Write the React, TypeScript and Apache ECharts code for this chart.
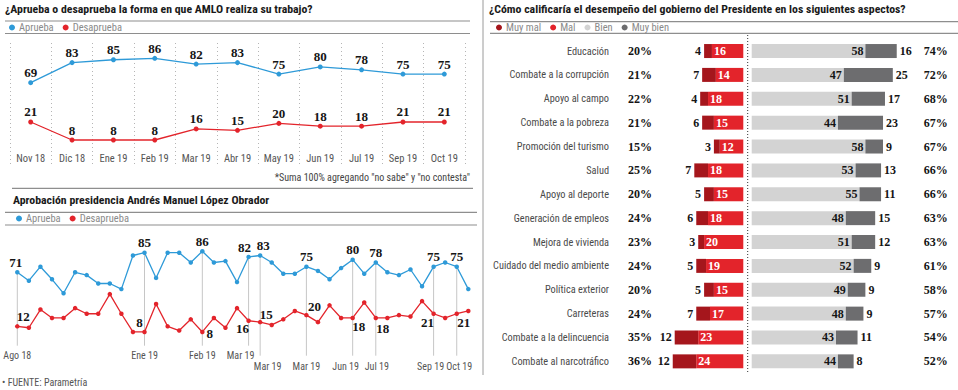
import React, { useEffect, useRef } from "react";
import * as echarts from "echarts";

const SANS = '"Liberation Sans Narrow", "Roboto Condensed", "Roboto", "DejaVu Sans", sans-serif';
const SERIF = '"Liberation Serif", "DejaVu Serif", serif';

const BLUE = "#2e9ad8";
const RED = "#e3242b";
const DARK_RED = "#a5161c";
const LIGHT_GREY = "#d3d3d3";
const DARK_GREY = "#6d6d6f";
const RULE = "#8e8e8e";

// ---- Top-left chart: monthly survey ----
const monthlyLabels = ["Nov 18", "Dic 18", "Ene 19", "Feb 19", "Mar 19", "Abr 19", "May 19", "Jun 19", "Jul 19", "Sep 19", "Oct 19"];
const monthlyApprove = [69, 83, 85, 86, 82, 83, 75, 80, 78, 75, 75];
const monthlyDisapprove = [21, 8, 8, 8, 16, 15, 20, 18, 18, 21, 21];

// ---- Bottom-left chart: tracking poll ----
const trackApprove = [71, 65, 75, 66, 56, 71, 69, 63, 63, 59, 83, 85, 67, 85, 85, 78, 86, 78, 79, 64, 82, 83, 78, 70, 70, 75, 72, 66, 74, 80, 70, 78, 71, 69, 73, 61, 75, 78, 75, 59];
const trackDisapprove = [12, 11, 24, 18, 18, 25, 21, 21, 35, 21, 8, 8, 28, 12, 9, 17, 8, 18, 11, 25, 16, 15, 13, 17, 23, 20, 15, 27, 18, 18, 29, 18, 18, 20, 19, 30, 21, 18, 21, 23];
const trackMarkedIdx = [0, 11, 16, 20, 21, 25, 29, 31, 36, 38];
const trackMarkedLabels = ["Ago 18", "Ene 19", "Feb 19", "Mar 19", "Mar 19", "Mar 19", "Jun 19", "Jul 19", "Sep 19", "Oct 19"];

// ---- Right chart ----
const aspects = [
  "Educación", "Combate a la corrupción", "Apoyo al campo", "Combate a la pobreza", "Promoción del turismo",
  "Salud", "Apoyo al deporte", "Generación de empleos", "Mejora de vivienda", "Cuidado del medio ambiente",
  "Política exterior", "Carreteras", "Combate a la delincuencia", "Combate al narcotráfico",
];
const muyMal = [4, 7, 4, 6, 3, 7, 5, 6, 3, 5, 5, 7, 12, 12];
const mal = [16, 14, 18, 15, 12, 18, 15, 18, 20, 19, 15, 17, 23, 24];
const bien = [58, 47, 51, 44, 58, 53, 55, 48, 51, 52, 49, 48, 43, 44];
const muyBien = [16, 25, 17, 23, 9, 13, 11, 15, 12, 9, 9, 9, 11, 8];
const negTotals = ["20%", "21%", "22%", "21%", "15%", "25%", "20%", "24%", "23%", "24%", "20%", "24%", "35%", "36%"];
const posTotals = ["74%", "72%", "68%", "67%", "67%", "66%", "66%", "63%", "63%", "61%", "58%", "57%", "54%", "52%"];

// label layout (styling only)
const lowerRowIdx = [21, 25, 29, 31, 36, 38];
const tickShift: Record<number, number> = { 20: -8, 21: 7.5, 29: -7, 31: 1, 36: -3, 38: 2.5 };
const blueLabelOffset: Record<number, number[]> = { 0: [-1.5, 0], 20: [-4, 0], 21: [3, 0] };
const redLabelPlace: Record<number, [string, number[]]> = {
  0: ["top", [6, 0]],
  11: ["top", [-5, 0]],
  16: ["right", [1, 2]],
  20: ["bottom", [-6, -2]],
  21: ["top", [6, 2]],
  25: ["top", [8, 1]],
  29: ["bottom", [6, -1]],
  31: ["bottom", [7, 1]],
  36: ["bottom", [-6, -1]],
  38: ["bottom", [7, -1]],
};

const numLabel = { fontFamily: SERIF, fontWeight: "bold" as const, fontSize: 13, color: "#151515" };
const barNum = { fontFamily: SERIF, fontWeight: "bold" as const, fontSize: 12 };

function buildOption() {
  const hiddenVal = (gridIndex: number, min: number, max: number, inverse = false) => ({
    type: "value", gridIndex, min, max, inverse, show: false,
  });

  const trackApproveData = trackApprove.map((v, i) =>
    trackMarkedIdx.includes(i)
      ? { value: v, label: { show: true, position: "top", distance: 1, offset: blueLabelOffset[i] || [0, 0] } }
      : v
  );
  const trackDisapproveData = trackDisapprove.map((v, i) => {
    const p = redLabelPlace[i];
    return p ? { value: v, label: { show: true, position: p[0], distance: 1, offset: p[1] } } : v;
  });

  const tickFont = { fontFamily: SANS, fontSize: 10, color: "#555", lineHeight: 11 };
  const tickRich: Record<string, any> = {};
  trackMarkedIdx.forEach((i) => {
    const s = tickShift[i] || 0;
    tickRich["p" + i] = { ...tickFont, padding: s > 0 ? [0, 0, 0, 2 * s] : [0, -2 * s, 0, 0] };
  });

  const line = (x1: number, y1: number, x2: number, y2: number, stroke = RULE, lineWidth = 1.2, lineDash?: number[]) => ({
    type: "line", silent: true, shape: { x1, y1, x2, y2 }, style: { stroke, lineWidth, lineDash },
  });

  const titleStyle = { fontFamily: SANS, fontSize: 11.8, fontWeight: "bold" as const, color: "#1a1a1a" };
  const legendBase = {
    icon: "circle", itemWidth: 6, itemHeight: 6, itemGap: 9, padding: 0,
    textStyle: { fontFamily: SANS, fontSize: 10.5, color: "#8a8a8a", padding: [0, 0, 0, -1] },
  };

  return {
    animation: false,
    backgroundColor: "#fff",
    title: [
      { text: "¿Aprueba o desaprueba la forma en que AMLO realiza su trabajo?", left: 5, top: 3, padding: 0, textStyle: titleStyle },
      { text: "Aprobación presidencia Andrés Manuel López Obrador", left: 13, top: 194, padding: 0, textStyle: titleStyle },
      { text: "¿Cómo calificaría el desempeño del gobierno del Presidente en los siguientes aspectos?", left: 489, top: 3, padding: 0, textStyle: titleStyle },
    ],
    legend: [
      { ...legendBase, left: 9, top: 22, data: ["Aprueba", "Desaprueba"] },
      { ...legendBase, left: 16, top: 213, data: ["Aprueba", "Desaprueba"] },
      { ...legendBase, left: 496, top: 22, data: ["Muy mal", "Mal", "Bien", "Muy bien"] },
    ],
    grid: [
      { left: 10, top: 43, width: 455, height: 122 },
      { left: 17.3, top: 238.7, width: 451, height: 105 },
      { left: 664.9, top: 39.1, width: 78.4, height: 334.2 },
      { left: 751.7, top: 39.1, width: 196, height: 334.2 },
    ],
    xAxis: [
      {
        type: "category", gridIndex: 0, data: monthlyLabels, boundaryGap: true,
        axisLine: { show: false }, axisTick: { show: false },
        axisLabel: { inside: true, margin: 1, color: "#555", fontSize: 10.5, fontFamily: SANS },
        splitLine: { show: true, lineStyle: { type: [1, 3], color: "#b5b5b5", width: 1 } },
      },
      {
        type: "category", gridIndex: 1, data: trackApprove.map((_, i) => String(i)), boundaryGap: false,
        axisLine: { show: false }, axisTick: { show: false }, splitLine: { show: false },
        axisLabel: {
          interval: 0, margin: 6, ...tickFont, rich: tickRich,
          formatter: (_v: string, i: number) => {
            const k = trackMarkedIdx.indexOf(i);
            if (k < 0) return "";
            return (lowerRowIdx.includes(i) ? "\n" : "") + "{p" + i + "|" + trackMarkedLabels[k] + "}";
          },
        },
      },
      hiddenVal(2, 0, 40, true),
      hiddenVal(3, 0, 100),
    ],
    yAxis: [
      hiddenVal(0, 11.65, 96.67),
      hiddenVal(0, -10.05, 78.04),
      hiddenVal(1, 20, 95),
      hiddenVal(1, -0.4, 74.6),
      {
        type: "category", gridIndex: 2, data: aspects, inverse: true, position: "left",
        axisLine: { show: false }, axisTick: { show: false }, splitLine: { show: false },
        axisLabel: { margin: 55.9, color: "#4a4a4a", fontSize: 10.3, fontFamily: SANS },
      },
      {
        type: "category", gridIndex: 2, data: negTotals, inverse: true, position: "left",
        axisLine: { show: false }, axisTick: { show: false }, splitLine: { show: false },
        axisLabel: { margin: 36.9, align: "left", color: "#151515", ...barNum },
      },
      {
        type: "category", gridIndex: 3, data: aspects, inverse: true, position: "left", show: false,
      },
      {
        type: "category", gridIndex: 3, data: posTotals, inverse: true, position: "right",
        axisLine: { show: false }, axisTick: { show: false }, splitLine: { show: false },
        axisLabel: { margin: 0, align: "right", color: "#151515", ...barNum },
      },
    ],
    series: [
      // top chart
      {
        type: "line", name: "Aprueba", xAxisIndex: 0, yAxisIndex: 0, data: monthlyApprove,
        symbol: "circle", symbolSize: 5, itemStyle: { color: BLUE }, lineStyle: { color: BLUE, width: 1.3 },
        label: { show: true, position: "top", distance: 1, ...numLabel },
      },
      {
        type: "line", name: "Desaprueba", xAxisIndex: 0, yAxisIndex: 1, data: monthlyDisapprove,
        symbol: "circle", symbolSize: 5, itemStyle: { color: RED }, lineStyle: { color: RED, width: 1.3 },
        label: { show: true, position: "top", distance: 1, ...numLabel },
      },
      // bottom chart: guide lines from the marked approval points down to their dates
      {
        type: "custom", xAxisIndex: 1, yAxisIndex: 2, silent: true, clip: false, z: 1,
        data: trackMarkedIdx.map((i) => [i, trackApprove[i], lowerRowIdx.includes(i) ? 1 : 0]),
        renderItem: (_p: any, api: any) => {
          const top = api.coord([api.value(0), api.value(1)]);
          const base = api.coord([api.value(0), 20]);
          return {
            type: "line",
            shape: { x1: top[0], y1: top[1], x2: top[0], y2: base[1] + (api.value(2) ? 12 : 2) },
            style: { stroke: "#c6c6c6", lineWidth: 1 },
          };
        },
      },
      {
        type: "line", name: "Aprueba", xAxisIndex: 1, yAxisIndex: 2, data: trackApproveData, z: 3,
        symbol: "circle", symbolSize: 4.5, itemStyle: { color: BLUE }, lineStyle: { color: BLUE, width: 1.3 },
        label: { show: false, ...numLabel },
      },
      {
        type: "line", name: "Desaprueba", xAxisIndex: 1, yAxisIndex: 3, data: trackDisapproveData, z: 3,
        symbol: "circle", symbolSize: 4.5, itemStyle: { color: RED }, lineStyle: { color: RED, width: 1.3 },
        label: { show: false, ...numLabel },
      },
      // right chart
      {
        type: "bar", name: "Mal", xAxisIndex: 2, yAxisIndex: 4, stack: "neg", data: mal, barWidth: 14,
        itemStyle: { color: RED },
        label: { show: true, position: "insideLeft", distance: 2, color: "#fff", ...barNum },
      },
      {
        type: "bar", name: "Muy mal", xAxisIndex: 2, yAxisIndex: 4, stack: "neg", data: muyMal, barWidth: 14,
        itemStyle: { color: DARK_RED },
        label: { show: true, position: "left", distance: 3, color: "#151515", ...barNum },
      },
      {
        type: "bar", name: "Bien", xAxisIndex: 3, yAxisIndex: 6, stack: "pos", data: bien, barWidth: 14,
        itemStyle: { color: LIGHT_GREY },
        label: { show: true, position: "insideRight", distance: 2, color: "#151515", ...barNum },
      },
      {
        type: "bar", name: "Muy bien", xAxisIndex: 3, yAxisIndex: 6, stack: "pos", data: muyBien, barWidth: 14,
        itemStyle: { color: DARK_GREY },
        label: { show: true, position: "right", distance: 3, color: "#151515", ...barNum },
      },
    ],
    graphic: [
      line(5, 21, 470, 21),
      line(5, 33.5, 470, 33.5),
      line(12, 188.3, 473, 188.3),
      line(5, 212.3, 477, 212.3),
      line(5, 225, 477, 225),
      line(490, 21.7, 958, 21.7),
      line(490, 33.3, 958, 33.3),
      line(483, 0, 483, 375, "#9a9a9a", 1),
      line(747.7, 35, 747.7, 374, "#333", 1, [1, 2]),
      {
        type: "text", silent: true, x: 470, y: 177,
        style: {
          text: '*Suma 100% agregando "no sabe" y "no contesta"', fill: "#444",
          font: `10px ${SANS}`, textAlign: "right", align: "right", textVerticalAlign: "middle", verticalAlign: "middle",
        },
      },
      {
        type: "text", silent: true, x: 2, y: 382.7,
        style: {
          text: "• FUENTE: Parametría", fill: "#555",
          font: `10px ${SANS}`, textAlign: "left", align: "left", textVerticalAlign: "middle", verticalAlign: "middle",
        },
      },
    ],
  };
}

export default function App() {
  const ref = useRef<HTMLDivElement>(null);
  useEffect(() => {
    document.body.style.margin = "0";
    const chart = echarts.init(ref.current!, null, { renderer: "svg", width: 958, height: 390 });
    chart.setOption(buildOption() as any);
    return () => chart.dispose();
  }, []);
  return (
    <div
      ref={ref}
      style={{ position: "absolute", left: 0, top: 0, width: 958, height: 390, background: "#fff" }}
    />
  );
}
